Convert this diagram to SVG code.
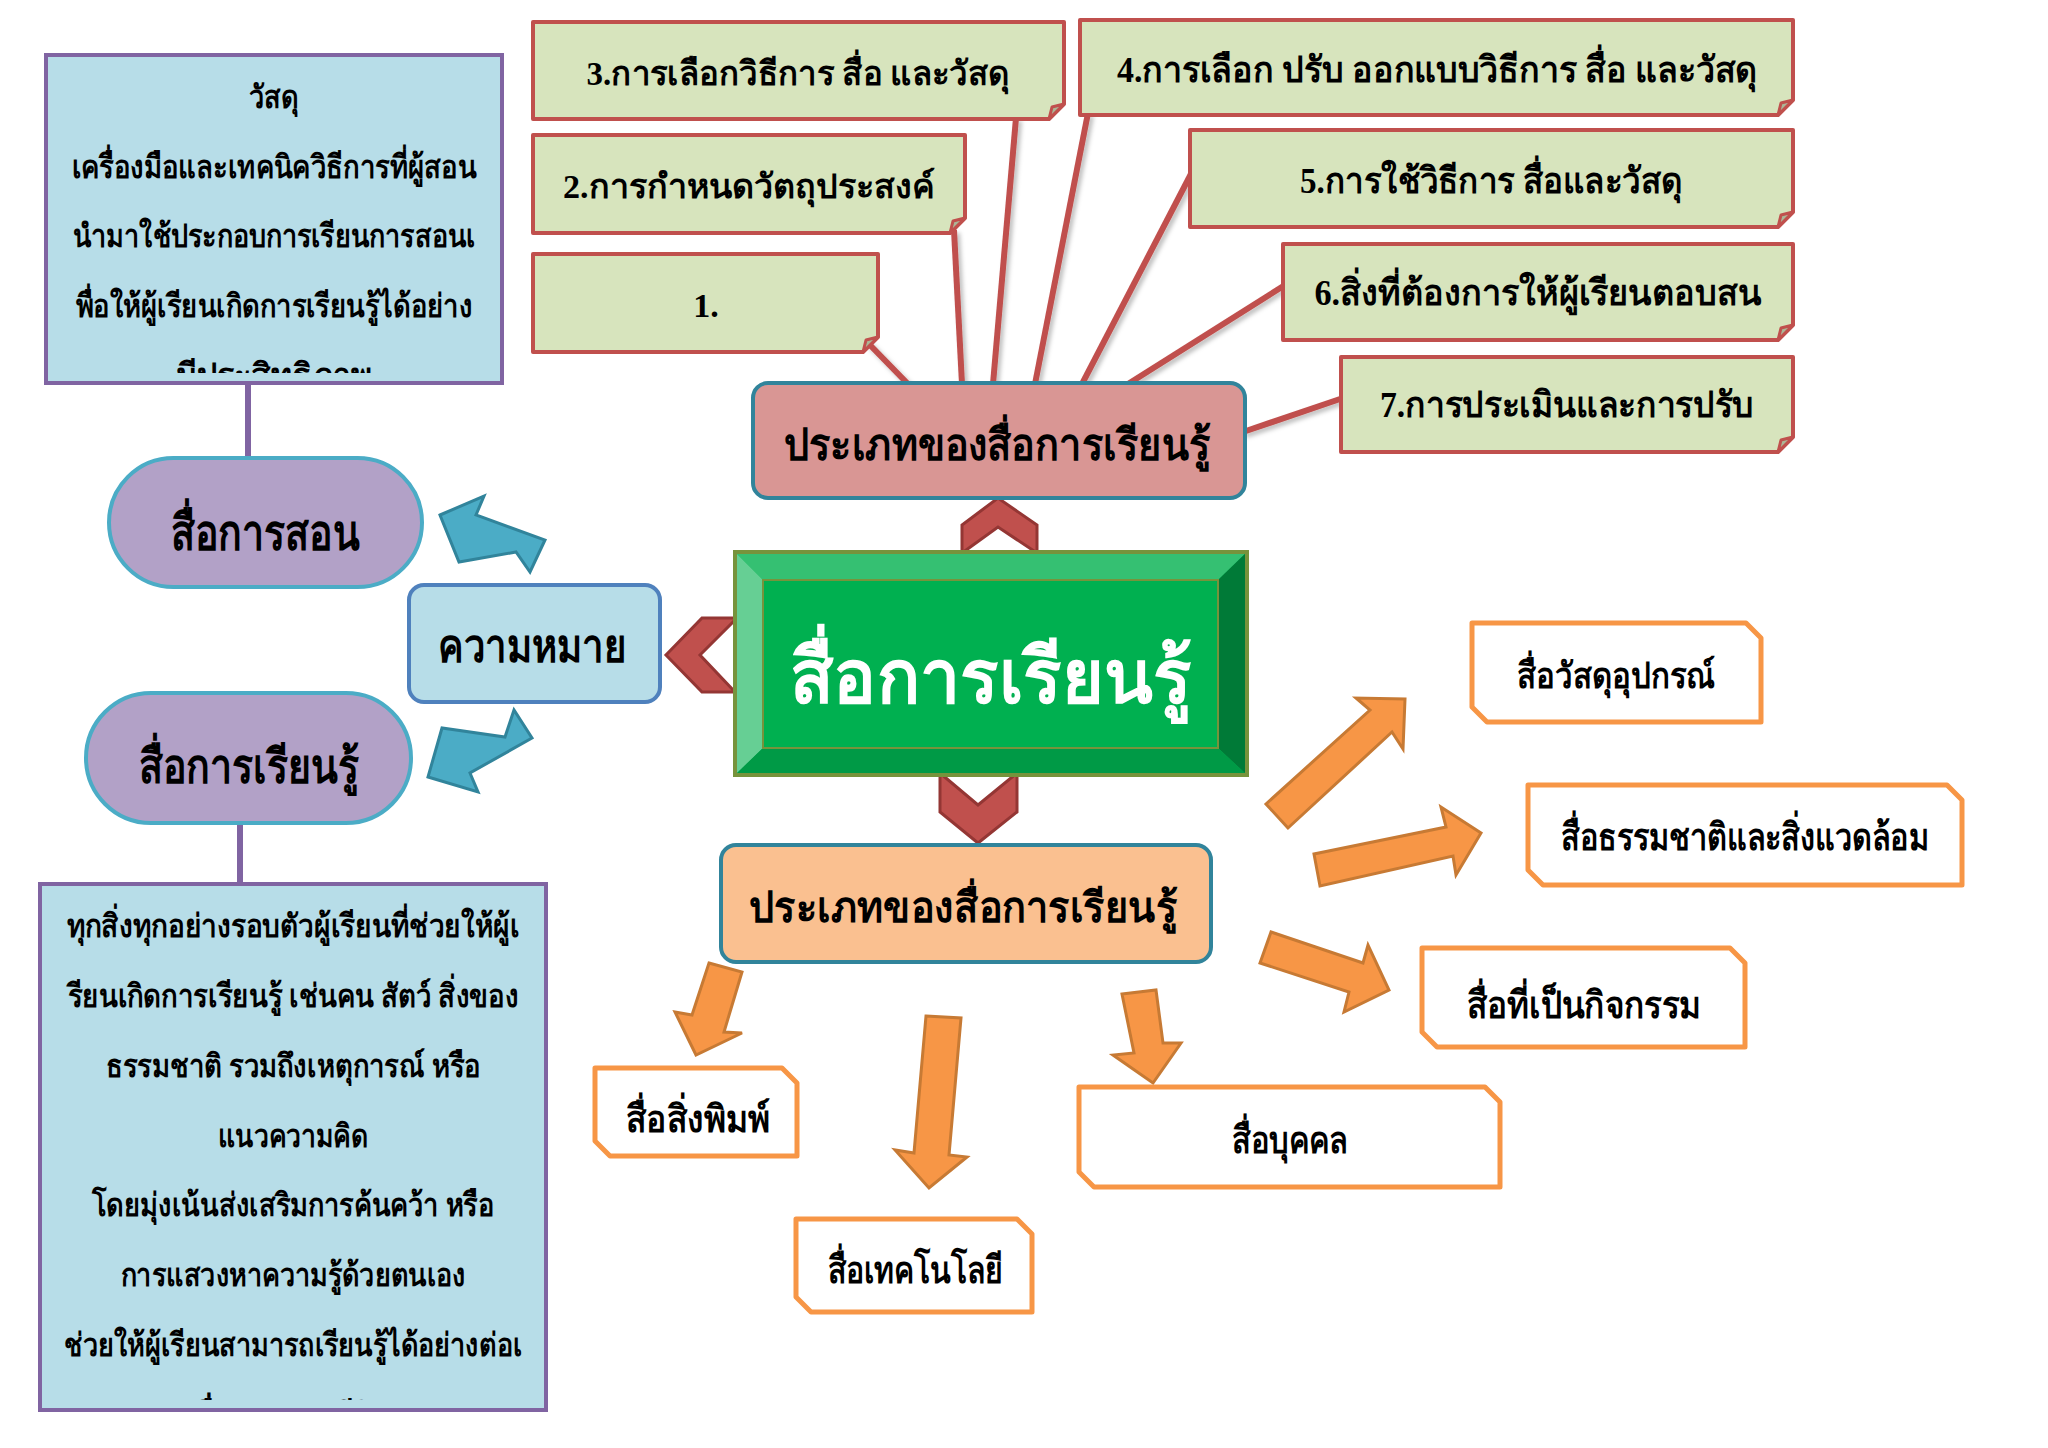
<svg xmlns="http://www.w3.org/2000/svg" width="2048" height="1448" viewBox="0 0 2048 1448">
<defs>
<style>
.t{font-family:"Liberation Serif","Noto Sans",serif;font-weight:bold;text-anchor:middle;fill:#000;}
.gbox{fill:#D7E4BD;stroke:#C0504D;stroke-width:4;stroke-linejoin:round;}
.flap{fill:#ACB697;stroke:#C0504D;stroke-width:3;stroke-linejoin:round;}
.conn{stroke:#C0504D;stroke-width:6;fill:none;}
.pconn{stroke:#8064A2;stroke-width:6;fill:none;}
.obox{fill:#FFFFFF;stroke:#F79646;stroke-width:5;stroke-linejoin:round;}
.oarr{fill:#F79646;stroke:#C77A34;stroke-width:3;stroke-linejoin:miter;}
.barr{fill:#4BACC6;stroke:#31849B;stroke-width:3;}
.chev{fill:#C0504D;stroke:#943634;stroke-width:3;stroke-linejoin:miter;}
.blue{fill:#B7DDE8;stroke:#8064A2;stroke-width:4;}
.pill{fill:#B2A1C7;stroke:#4BACC6;stroke-width:4;}
</style>
<filter id="sh" x="-20%" y="-20%" width="140%" height="140%">
<feDropShadow dx="3" dy="3" stdDeviation="2" flood-color="#000" flood-opacity="0.25"/>
</filter>
<clipPath id="clipA"><rect x="46" y="55" width="456" height="318"/></clipPath>
<clipPath id="clipB"><rect x="40" y="884" width="506" height="516"/></clipPath>
</defs>
<rect width="2048" height="1448" fill="#FFFFFF"/>

<g id="connectors">
<g filter="url(#sh)">
<line class="conn" x1="868" y1="343" x2="908" y2="384"/>
<line class="conn" x1="954" y1="230" x2="962" y2="384"/>
<line class="conn" x1="1016" y1="118" x2="993" y2="384"/>
<line class="conn" x1="1088" y1="113" x2="1035" y2="384"/>
<line class="conn" x1="1192" y1="172" x2="1082" y2="384"/>
<line class="conn" x1="1285" y1="285" x2="1128" y2="384"/>
<line class="conn" x1="1343" y1="398" x2="1243" y2="432"/>
</g>
<line class="pconn" x1="248" y1="383" x2="248" y2="460"/>
<line class="pconn" x1="240" y1="821" x2="240" y2="886"/>
<polygon class="barr" points="440,515 484,496 476,515 545,540 530,572 516,552 459,562"/>
<polygon class="barr" points="428,777 478,792 470,773 532,738 514,710 505,737 442,728"/>
<polygon class="chev" points="702,618 737,618 700,655 735,692 702,692 666,655"/>
<polygon class="chev" points="962,553 962,525 998,498 1037,525 1037,553 998,527"/>
<polygon class="chev" points="940,773 940,812 978,843 1017,812 1017,773 978,805"/>
<polygon class="oarr" points="1288,828 1266,804 1370,710 1356,698 1405,699 1403,749 1392,732"/>
<polygon class="oarr" points="1314,854 1320,886 1453,856 1456,875 1481,833 1441,807 1446,827"/>
<polygon class="oarr" points="1271,932 1260,963 1349,992 1344,1012 1389,990 1368,945 1363,963"/>
<polygon class="oarr" points="709,963 742,972 724,1032 742,1033 696,1055 675,1012 692,1015"/>
<polygon class="oarr" points="926,1016 961,1018 949,1155 967,1157 929,1188 895,1150 914,1153"/>
<polygon class="oarr" points="1122,994 1156,990 1163,1043 1181,1043 1153,1083 1113,1055 1134,1053"/>
</g>

<g id="box-3">
<path class="gbox" d="M533 22 H1064 V104 L1049 119 H533 Z"/>
<path class="flap" d="M1064 104 L1052 107 L1049 119 Z"/>
<text class="t" x="798" y="85" font-size="34" textLength="423" lengthAdjust="spacingAndGlyphs">3.การเลือกวิธีการ สื่อ และวัสดุ</text>
</g>
<g id="box-2">
<path class="gbox" d="M533 135 H965 V218 L950 233 H533 Z"/>
<path class="flap" d="M965 218 L953 221 L950 233 Z"/>
<text class="t" x="749" y="198" font-size="34" textLength="372" lengthAdjust="spacingAndGlyphs">2.การกำหนดวัตถุประสงค์</text>
</g>
<g id="box-1">
<path class="gbox" d="M533 254 H878 V337 L863 352 H533 Z"/>
<path class="flap" d="M878 337 L866 340 L863 352 Z"/>
<text class="t" x="706" y="317" font-size="34">1.</text>
</g>
<g id="box-4">
<path class="gbox" d="M1080 20 H1793 V100 L1778 115 H1080 Z"/>
<path class="flap" d="M1793 100 L1781 103 L1778 115 Z"/>
<text class="t" x="1437" y="82" font-size="36" textLength="640" lengthAdjust="spacingAndGlyphs">4.การเลือก ปรับ ออกแบบวิธีการ สื่อ และวัสดุ</text>
</g>
<g id="box-5">
<path class="gbox" d="M1190 130 H1793 V212 L1778 227 H1190 Z"/>
<path class="flap" d="M1793 212 L1781 215 L1778 227 Z"/>
<text class="t" x="1491" y="193" font-size="36" textLength="382" lengthAdjust="spacingAndGlyphs">5.การใช้วิธีการ สื่อและวัสดุ</text>
</g>
<g id="box-6">
<path class="gbox" d="M1283 244 H1793 V325 L1778 340 H1283 Z"/>
<path class="flap" d="M1793 325 L1781 328 L1778 340 Z"/>
<text class="t" x="1538" y="305" font-size="36" textLength="447" lengthAdjust="spacingAndGlyphs">6.สิ่งที่ต้องการให้ผู้เรียนตอบสน</text>
</g>
<g id="box-7">
<path class="gbox" d="M1341 357 H1793 V437 L1778 452 H1341 Z"/>
<path class="flap" d="M1793 437 L1781 440 L1778 452 Z"/>
<text class="t" x="1567" y="417" font-size="36" textLength="374" lengthAdjust="spacingAndGlyphs">7.การประเมินและการปรับ</text>
</g>

<g id="types-top">
<rect x="753" y="383" width="492" height="115" rx="15" fill="#D99694" stroke="#31849B" stroke-width="4"/>
<text class="t" x="997" y="460" font-size="44" textLength="427" lengthAdjust="spacingAndGlyphs">ประเภทของสื่อการเรียนรู้</text>
</g>

<g id="center">
<rect x="735" y="552" width="512" height="223" fill="#00B050"/>
<polygon points="735,552 1247,552 1218,580 763,580" fill="#35C072"/>
<polygon points="735,552 763,580 763,748 735,775" fill="#66CF94"/>
<polygon points="1247,552 1247,775 1218,748 1218,580" fill="#007A37"/>
<polygon points="735,775 763,748 1218,748 1247,775" fill="#009A46"/>
<rect x="735" y="552" width="512" height="223" fill="none" stroke="#77933C" stroke-width="4"/>
<rect x="763" y="580" width="455" height="168" fill="none" stroke="#77933C" stroke-width="2"/>
<text class="t" x="991" y="703" font-size="76" style="fill:#FFFFFF" textLength="402" lengthAdjust="spacingAndGlyphs">สื่อการเรียนรู้</text>
</g>

<g id="types-bottom">
<rect x="721" y="845" width="490" height="117" rx="15" fill="#FAC090" stroke="#31849B" stroke-width="4"/>
<text class="t" x="963" y="922" font-size="42" textLength="429" lengthAdjust="spacingAndGlyphs">ประเภทของสื่อการเรียนรู้</text>
</g>

<g id="media-print">
<path class="obox" d="M595 1068 H782 L797 1083 V1156 H610 L595 1141 Z"/>
<text class="t" x="698" y="1132" font-size="38" textLength="144" lengthAdjust="spacingAndGlyphs">สื่อสิ่งพิมพ์</text>
</g>
<g id="media-tech">
<path class="obox" d="M796 1219 H1017 L1032 1234 V1312 H811 L796 1297 Z"/>
<text class="t" x="915" y="1283" font-size="38" textLength="175" lengthAdjust="spacingAndGlyphs">สื่อเทคโนโลยี</text>
</g>
<g id="media-person">
<path class="obox" d="M1079 1087 H1485 L1500 1102 V1187 H1094 L1079 1172 Z"/>
<text class="t" x="1290" y="1153" font-size="38" textLength="116" lengthAdjust="spacingAndGlyphs">สื่อบุคคล</text>
</g>
<g id="media-material">
<path class="obox" d="M1472 623 H1746 L1761 638 V722 H1487 L1472 707 Z"/>
<text class="t" x="1616" y="688" font-size="36" textLength="198" lengthAdjust="spacingAndGlyphs">สื่อวัสดุอุปกรณ์</text>
</g>
<g id="media-nature">
<path class="obox" d="M1528 785 H1947 L1962 800 V885 H1543 L1528 870 Z"/>
<text class="t" x="1745" y="850" font-size="38" textLength="368" lengthAdjust="spacingAndGlyphs">สื่อธรรมชาติและสิ่งแวดล้อม</text>
</g>
<g id="media-activity">
<path class="obox" d="M1422 948 H1730 L1745 963 V1047 H1437 L1422 1032 Z"/>
<text class="t" x="1584" y="1018" font-size="38" textLength="234" lengthAdjust="spacingAndGlyphs">สื่อที่เป็นกิจกรรม</text>
</g>

<g id="meaning">
<rect x="409" y="585" width="251" height="117" rx="15" fill="#B7DDE8" stroke="#4F81BD" stroke-width="4"/>
<text class="t" x="532" y="662" font-size="46" textLength="188" lengthAdjust="spacingAndGlyphs">ความหมาย</text>
</g>
<g id="teaching-media">
<rect class="pill" x="109" y="458" width="313" height="129" rx="64.5"/>
<text class="t" x="265" y="550" font-size="50" textLength="189" lengthAdjust="spacingAndGlyphs">สื่อการสอน</text>
</g>
<g id="learning-media">
<rect class="pill" x="86" y="693" width="325" height="130" rx="65"/>
<text class="t" x="249" y="783" font-size="48" textLength="220" lengthAdjust="spacingAndGlyphs">สื่อการเรียนรู้</text>
</g>

<g id="def-teaching">
<rect class="blue" x="46" y="55" width="456" height="328"/>
<g clip-path="url(#clipA)" font-size="32">
<text class="t" x="274" y="108" textLength="50" lengthAdjust="spacingAndGlyphs">วัสดุ</text>
<text class="t" x="274" y="178" textLength="405" lengthAdjust="spacingAndGlyphs">เครื่องมือและเทคนิควิธีการที่ผู้สอน</text>
<text class="t" x="274" y="247" textLength="403" lengthAdjust="spacingAndGlyphs">นำมาใช้ประกอบการเรียนการสอนเ</text>
<text class="t" x="274" y="317" textLength="397" lengthAdjust="spacingAndGlyphs">พื่อให้ผู้เรียนเกิดการเรียนรู้ได้อย่าง</text>
<text class="t" x="274" y="386">มีประสิทธิภาพ</text>
</g>
</g>

<g id="def-learning">
<rect class="blue" x="40" y="884" width="506" height="526"/>
<g clip-path="url(#clipB)" font-size="32">
<text class="t" x="293" y="937" textLength="453" lengthAdjust="spacingAndGlyphs">ทุกสิ่งทุกอย่างรอบตัวผู้เรียนที่ช่วยให้ผู้เ</text>
<text class="t" x="293" y="1007" textLength="451" lengthAdjust="spacingAndGlyphs">รียนเกิดการเรียนรู้ เช่นคน สัตว์ สิ่งของ</text>
<text class="t" x="293" y="1077" textLength="375" lengthAdjust="spacingAndGlyphs">ธรรมชาติ รวมถึงเหตุการณ์ หรือ</text>
<text class="t" x="293" y="1147" textLength="150" lengthAdjust="spacingAndGlyphs">แนวความคิด</text>
<text class="t" x="293" y="1216" textLength="402" lengthAdjust="spacingAndGlyphs">โดยมุ่งเน้นส่งเสริมการค้นคว้า หรือ</text>
<text class="t" x="293" y="1286" textLength="345" lengthAdjust="spacingAndGlyphs">การแสวงหาความรู้ด้วยตนเอง</text>
<text class="t" x="293" y="1356" textLength="458" lengthAdjust="spacingAndGlyphs">ช่วยให้ผู้เรียนสามารถเรียนรู้ได้อย่างต่อเ</text>
<text class="t" x="293" y="1426">นื่องตลอดชีวิต</text>
</g>
</g>
</svg>
